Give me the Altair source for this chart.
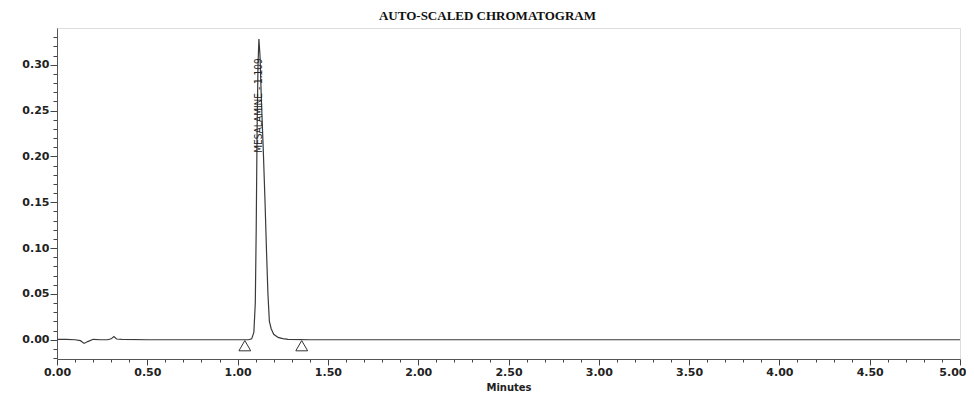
import altair as alt
import pandas as pd

# --- data ---
time_min = [0.00, 0.05, 0.10, 0.13, 0.15, 0.17, 0.20, 0.24, 0.28, 0.30, 0.315, 0.33, 0.36,
            0.50, 0.80, 1.00, 1.06, 1.078, 1.09, 1.098, 1.103, 1.108, 1.113, 1.118, 1.124,
            1.132, 1.142, 1.152, 1.16, 1.168, 1.176, 1.186, 1.20, 1.224, 1.25, 1.28, 1.40,
            2.00, 3.00, 4.00, 5.00]
signal = [0.0005, 0.0005, 0.0, -0.001, -0.004, -0.002, 0.0005, 0.0, 0.0, 0.001, 0.0036, 0.0008, 0.0003,
          0.0, 0.0, 0.0, 0.0, 0.001, 0.008, 0.04, 0.12, 0.23, 0.30, 0.328, 0.31,
          0.26, 0.208, 0.15, 0.097, 0.05, 0.02, 0.012, 0.006, 0.0025, 0.0012, 0.0005, 0.0,
          0.0, 0.0, 0.0, 0.0]

marker_x = [1.04, 1.355]
marker_y = [-0.0065, -0.0065]

peak_label = ["MESALAMINE - 1.109"]
peak_label_x = [1.118]
peak_label_y = [0.204]

x_ticks = [round(i * 0.1, 2) for i in range(0, 51)]
y_ticks = [round(-0.02 + i * 0.01, 2) for i in range(0, 36)]

trace = pd.DataFrame({"t": time_min, "v": signal})
markers = pd.DataFrame({"t": marker_x, "v": marker_y})
labels = pd.DataFrame({"t": peak_label_x, "v": peak_label_y, "txt": peak_label})

xscale = alt.Scale(domain=[0, 5], nice=False, zero=False)
yscale = alt.Scale(domain=[-0.021, 0.34], nice=False, zero=False)

FONT = "DejaVu Sans"

x_axis = alt.Axis(
    title="Minutes", values=x_ticks, tickCount=200, format=".2f", grid=False,
    labelExpr="(round(datum.value*10) % 5 == 0) ? format(datum.value, '.2f') : ''",
    labelOverlap=False, labelFlush=False,
    labelAlign={"condition": {"test": "datum.value >= 4.99", "value": "right"}, "value": "center"},
    labelOffset={"condition": {"test": "datum.value >= 4.99", "value": 6}, "value": 0},
    tickSize={"condition": {"test": "round(datum.value*10) % 5 == 0", "value": 6}, "value": 3},
    tickColor="#444", domainColor="#555", labelColor="#222",
    labelFont=FONT, labelFontSize=11, labelFontWeight="bold", labelPadding=1,
    titleFont=FONT, titleFontSize=10, titleFontWeight="bold", titleColor="#222",
    titlePadding=5,
)
y_axis = alt.Axis(
    title=None, values=y_ticks, tickCount=200, grid=False,
    labelExpr="(round(datum.value*100) % 5 == 0) ? format(datum.value, '.2f') : ''",
    labelOverlap=False, labelFlush=False,
    tickSize={"condition": {"test": "round(datum.value*100) % 5 == 0", "value": 7}, "value": 4},
    tickColor="#444", domainColor="#555", labelColor="#222",
    labelFont=FONT, labelFontSize=11, labelFontWeight="bold", labelPadding=1,
)

line = alt.Chart(trace).mark_line(color="#3a3a3a", strokeWidth=1.2, interpolate="linear").encode(
    x=alt.X("t:Q", scale=xscale, axis=x_axis),
    y=alt.Y("v:Q", scale=yscale, axis=y_axis),
)

tri = alt.Chart(markers).mark_point(
    shape="triangle-up", size=140, filled=True, fill="white", stroke="#333", strokeWidth=1, opacity=1
).encode(x=alt.X("t:Q", scale=xscale), y=alt.Y("v:Q", scale=yscale))

txt = alt.Chart(labels).mark_text(
    angle=270, align="left", baseline="middle",
    font="Liberation Sans Narrow, DejaVu Sans Condensed, Liberation Sans",
    fontSize=10, color="#222"
).encode(x=alt.X("t:Q", scale=xscale), y=alt.Y("v:Q", scale=yscale), text="txt:N")

chart = alt.layer(line, tri, txt).properties(
    width=903, height=331,
    title=alt.TitleParams(
        "AUTO-SCALED CHROMATOGRAM", font="Liberation Serif", fontSize=13,
        fontWeight="bold", color="#111", anchor="middle", dx=-21, offset=5
    ),
    autosize=alt.AutoSizeParams(type="none"),
    padding={"left": 49, "top": 20, "right": 6, "bottom": 32},
).configure_view(stroke="#777", strokeWidth=1).configure(background="white")

chart.save("out.html", embed_options={"renderer": "svg", "actions": False})
